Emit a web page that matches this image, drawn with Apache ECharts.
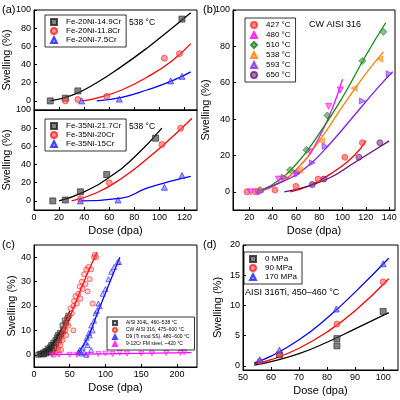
<!DOCTYPE html>
<html><head><meta charset="utf-8">
<script src="https://cdn.jsdelivr.net/npm/echarts@6/dist/echarts.min.js"></script>
<style>html,body{margin:0;padding:0;background:#fff}#c{width:400px;height:400px}</style>
</head><body><div id="c"></div>
<script>
// ---- Panel (a) top ----
const aT_black=[[13,0],[25,3],[35,11],[118,90]];
const aT_blackFit=[[13,0],[30,6],[50,20],[70,38],[90,58],[110,80],[125,97]];
const aT_red=[[25,0],[35,1.5],[58,5],[104,47],[116,52]];
const aT_redFit=[[38,0],[50,3],[70,12],[90,26],[110,44],[125,63]];
const aT_blue=[[38,0],[68,2],[109,22],[118,27]];
const aT_blueFit=[[50,0],[70,4],[90,12],[110,22],[125,32]];
// ---- Panel (a) bottom ----
const aB_black=[[15,0],[25,1],[37,10],[58,29],[97,69]];
const aB_blackFit=[[20,0],[40,10],[60,26],[80,48],[102,80]];
const aB_red=[[37,2],[60,20],[102,62],[117,80]];
const aB_redFit=[[30,0],[50,9],[70,25],[90,46],[110,70],[126,91]];
const aB_blue=[[37,0],[67,1],[104,15],[118,28]];
const aB_blueFit=[[38,0],[70,3],[90,14],[110,22],[125,27]];
// ---- Panel (b) ----
const b427=[[18,0],[25,0],[42,1],[60,3],[79,7],[102,19],[117,27]];
const b427Fit=[[55,0],[70,3],[90,10],[110,20],[120,28]];
const b480=[[21,0],[27,0],[45,7],[60,10],[72,22],[88,47],[98,56]];
const b480Fit=[[25,0],[40,3],[60,12],[80,30],[100,62]];
const b510=[[29,1],[55,12],[69,23],[87,42],[117,72],[135,88]];
const b510Fit=[[25,0],[40,4],[60,15],[80,32],[100,52],[120,75],[137,93]];
const b538=[[28,1],[49,8],[63,12],[82,28],[110,57],[132,73]];
const b538Fit=[[25,0],[40,3],[60,12],[80,28],[100,47],[120,65],[135,77]];
const b593=[[30,0],[50,8],[61,10],[74,16],[85,25],[117,50],[140,65]];
const b593Fit=[[25,0],[50,6],[70,14],[90,27],[110,42],[130,57],[143,66]];
const b650=[[74,4],[84,7],[114,19],[132,27]];
const b650Fit=[[50,0],[70,3],[90,8],[110,16],[130,24],[140,28]];
// ---- Panel (c) ----
const c304=[[6,0],[8,0.3],[10,0.5],[12,0.2],[13,1],[15,0.8],[16,1.5],[18,1.2],[19,2.5],[20,2],[22,3],[23,2.2],[24,4],[25,3.5],[27,5],[28,4.2],[30,6],[31,5],[32,7],[33,8],[35,7.5],[36,9],[38,8.5],[40,12],[41,10],[43,14],[45,13],[47,15],[48,16],[35,6],[28,2.8],[26,1.5],[21,1],[17,0.5],[14,0.2]];
const c304Fit=[[5,0],[20,2.5],[35,8.5],[50,18]];
const c316=[[28,0],[30,1],[32,3],[34,2],[35,5],[37,4],[38,7],[40,6],[41,9],[42,11],[44,10],[45,13],[46,15],[48,12],[50,16],[51,19],[53,17],[55,20],[56,22],[58,24],[60,21],[62,25],[64,28],[65,23],[67,30],[68,27],[70,33],[72,29],[73,35],[75,26],[76,36],[78,31],[80,35],[82,21],[84,40],[85,41],[87,40],[55,10],[45,8],[38,2]];
const c316Fit=[[27,0],[40,8],[55,19],[70,30],[88,42]];
const cD9=[[62,1],[64,2],[66,0.5],[68,3],[70,1],[72,5],[74,7],[75,4],[77,9],[78,8],[80,12],[82,10],[84,14],[86,17],[88,18],[90,21],[92,20],[96,25],[100,27],[104,31],[108,34],[112,36],[117,38],[119,38],[73,0],[80,2]];
const cD9Fit=[[60,0],[75,7],[90,18],[105,29],[120,40]];
const cFM=[[25,0],[35,0],[50,0],[60,0],[75,0],[90,0.3],[100,0.5],[110,0.3],[120,0.8],[130,0.5],[150,0.5],[165,0.6],[185,0.7],[205,0.8],[210,1]];
const cFMFit=[[20,0.1],[220,0.9]];
// ---- Panel (d) ----
const d0=[[63,1.8],[83.5,4.5],[83.5,3.3],[100,9]];
const d0Fit=[[54,0.1],[60,0.7],[70,2],[80,3.9],[90,6.1],[102,8.8]];
const d90=[[56,0.7],[63,1.9],[83.5,6.9],[100,13.9]];
const d90Fit=[[54,0.3],[60,1],[70,2.9],[80,5.6],[90,9.1],[102,14.4]];
const d170=[[56,1],[63,2.6],[83.3,9.4],[100,16.9]];
const d170Fit=[[54,0.5],[60,1.6],[70,4.3],[80,7.9],[90,12.2],[102,17.8]];

const F='Liberation Sans, Arial, sans-serif';
const ax=(i,min,max,labels,showLbl)=>({gridIndex:i,type:'value',min,max,
  axisLine:{show:true,onZero:false,lineStyle:{color:'#000'}},splitLine:{show:false},
  axisTick:{inside:true,length:3,customValues:labels,lineStyle:{color:'#000'}},
  axisLabel:{show:showLbl,customValues:labels,fontSize:9,color:'#000',fontFamily:F,margin:3}});
const xTitle=(o)=>Object.assign(o,{name:'Dose (dpa)',nameLocation:'middle',nameGap:15,nameTextStyle:{fontSize:11,color:'#000',fontFamily:F}});
const grids=[
 {left:34,top:10,width:163,height:100},
 {left:34,top:110,width:163,height:100},
 {left:233,top:10,width:162,height:200},
 {left:34,top:245,width:163,height:122},
 {left:243,top:245,width:155,height:125}
].map(g=>Object.assign(g,{show:true,borderColor:'#000',borderWidth:1}));
const t20=[0,20,40,60,80,100];
const xAxis=[ax(0,0,130,[0,20,40,60,80,100,120],false),
 xTitle(ax(1,0,130,[0,20,40,60,80,100,120],true)),
 xTitle(ax(2,6,145,[20,40,60,80,100,120,140],true)),
 xTitle(ax(3,0,228,[0,50,100,150,200],true)),
 xTitle(ax(4,50,105.3,[50,60,70,80,90,100],true))];
const yAxis=[ax(0,-10,100,t20,true),ax(1,-10,100,t20,true),ax(2,-10,100,t20,true),
 ax(3,-5,45,[0,10,20,30,40],true),ax(4,-0.7,20,[0,5,10,15,20],true)];
[0,1,2,3,4].forEach(i=>Object.assign(yAxis[i],{name:'Swelling (%)',nameLocation:'middle',nameGap:i==3?17:(i<2?19:20),nameTextStyle:{fontSize:11,color:'#000',fontFamily:F}}));
const series=[];
function sc(i,name,data,sym,col,fill,rot,size){series.push({type:'scatter',name,xAxisIndex:i,yAxisIndex:i,data,symbol:sym,symbolRotate:rot||0,symbolSize:size||6,itemStyle:{color:fill,borderColor:col,borderWidth:0.8},z:3});}
function ln(i,data,col){series.push({type:'line',xAxisIndex:i,yAxisIndex:i,data,smooth:true,showSymbol:false,symbol:'none',lineStyle:{color:col,width:1.3},z:2,silent:true});}
const K='#222',Kf='rgba(60,60,60,0.8)',R='#ff2020',Rf='rgba(255,90,90,0.75)',B='#2020ff',Bf='rgba(90,90,255,0.75)';
sc(0,'Fe-20Ni-14.9Cr',aT_black,'rect',K,Kf);ln(0,aT_blackFit,'#000');
sc(0,'Fe-20Ni-11.8Cr',aT_red,'circle',R,Rf);ln(0,aT_redFit,'#ff0000');
sc(0,'Fe-20Ni-7.5Cr',aT_blue,'triangle',B,Bf);ln(0,aT_blueFit,'#0000ff');
sc(1,'Fe-35Ni-21.7Cr',aB_black,'rect',K,Kf);ln(1,aB_blackFit,'#000');
sc(1,'Fe-35Ni-20Cr',aB_red,'circle',R,Rf);ln(1,aB_redFit,'#ff0000');
sc(1,'Fe-35Ni-15Cr',aB_blue,'triangle',B,Bf);ln(1,aB_blueFit,'#0000ff');
sc(2,'427 °C',b427,'circle','#ff3030','rgba(255,80,80,0.8)');ln(2,b427Fit,'#ff0000');
sc(2,'480 °C',b480,'triangle','#ff00ff','rgba(255,60,255,0.8)',180);ln(2,b480Fit,'#ff00ff');
sc(2,'510 °C',b510,'diamond','#1e7b1e','rgba(60,160,60,0.8)',0,7);ln(2,b510Fit,'#138a13');
sc(2,'538 °C',b538,'triangle','#ff8000','rgba(255,150,50,0.8)',90);ln(2,b538Fit,'#ff8000');
sc(2,'593 °C',b593,'triangle','#8a2be2','rgba(150,80,240,0.8)',-90);ln(2,b593Fit,'#8020e0');
sc(2,'650 °C',b650,'circle','#6a1b7a','rgba(130,60,150,0.8)');ln(2,b650Fit,'#601070');
sc(3,'AISI 304L, 460–538 °C',c304,'rect',K,'rgba(60,60,60,0.4)',0,5);ln(3,c304Fit,'#000');
sc(3,'CW AISI 316, 475–600 °C',c316,'circle',R,'rgba(255,90,90,0.35)',0,5);ln(3,c316Fit,'#ff0000');
sc(3,'D9 (Ti mod SS), 480–600 °C',cD9,'triangle',B,'rgba(90,90,255,0.35)',0,5);ln(3,cD9Fit,'#0000ff');
sc(3,'9-12Cr FM steel, ~420 °C',cFM,'triangle','#ff00ff','rgba(255,60,255,0.35)',180,5);ln(3,cFMFit,'#ff00ff');
sc(4,'0 MPa',d0,'rect',K,Kf);ln(4,d0Fit,'#000');
sc(4,'90 MPa',d90,'circle',R,Rf);ln(4,d90Fit,'#ff0000');
sc(4,'170 MPa',d170,'triangle',B,Bf);ln(4,d170Fit,'#0000ff');
const lg=(data,left,top,fs,w,gap)=>({data,left,top,orient:'vertical',itemGap:gap,itemWidth:w,itemHeight:w,
  borderColor:'#000',borderWidth:0.8,padding:[3,5,3,5],textStyle:{fontSize:fs,fontFamily:F,color:'#000',padding:[0,0,0,4]},selectedMode:false});
const legend=[
 lg(['Fe-20Ni-14.9Cr','Fe-20Ni-11.8Cr','Fe-20Ni-7.5Cr'],45,15,8,6,1),
 lg(['Fe-35Ni-21.7Cr','Fe-35Ni-20Cr','Fe-35Ni-15Cr'],45,119,8,6,1),
 lg(['427 °C','480 °C','510 °C','538 °C','593 °C','650 °C'],245,18,8,6,2),
 lg(['AISI 304L, 460–538 °C','CW AISI 316, 475–600 °C','D9 (Ti mod SS), 480–600 °C','9-12Cr FM steel, ~420 °C'],107,317,5,4,1),
 lg(['0 MPa','90 MPa','170 MPa'],244,252,8,6,1)];
const txt=(x,y,s,fs)=>({type:'text',x,y,style:{text:s,fontSize:fs,fontFamily:F,fill:'#000'}});
const graphic=[txt(2,4,'(a)',11),txt(203,4,'(b)',11),txt(2,239,'(c)',11),txt(203,239,'(d)',11),
 txt(129,18,'538 °C',8.5),txt(129,122,'538 °C',8.5),txt(309,20,'CW AISI 316',9),txt(245,288,'AISI 316Ti, 450–460 °C',9)];
echarts.init(document.getElementById('c')).setOption({animation:false,grid:grids,xAxis,yAxis,series,legend,graphic});
</script></body></html>
